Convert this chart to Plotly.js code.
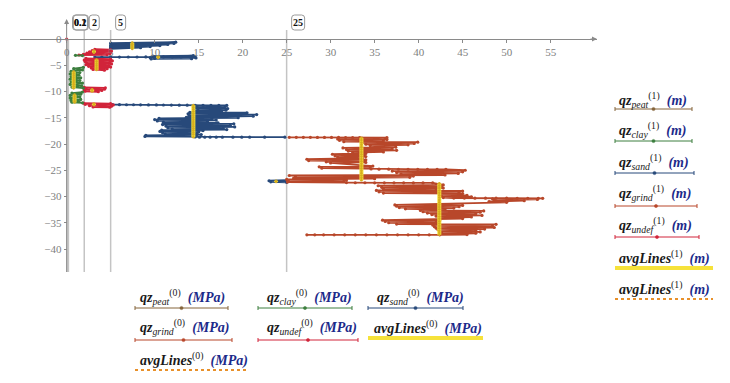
<!DOCTYPE html>
<html><head><meta charset="utf-8">
<script src="https://cdn.plot.ly/plotly-3.0.1.min.js"></script>
<style>body{margin:0;background:#fff}#chart{width:730px;height:383px}</style>
</head><body><div id="chart"></div>
<script>
// ---- data: [qc (MPa), depth (m)] pairs, null = gap ----
const sandPts = [
 [5.0,-0.8],[12.4,-0.6],[5.1,-1.0],[12.2,-0.85],[5.0,-1.2],[11.5,-1.05],[5.0,-1.4],[10.6,-1.25],[5.0,-1.6],[9.5,-1.45],[5.0,-1.8],[8.4,-1.65],[5.0,-1.9],null,
 [3.2,-3.45],[4.0,-3.45],[5.0,-3.44],[6.0,-3.44],[7.0,-3.43],[8.0,-3.43],[9.0,-3.42],[10.0,-3.42],[11.0,-3.42],[12.0,-3.41],[13.0,-3.41],[14.0,-3.40],[14.6,-3.40],[9.8,-3.25],[14.4,-3.15],[9.5,-3.55],[14.7,-3.6],[10.0,-3.7],[14.2,-3.75],[9.6,-3.8],null,
 [5.2,-12.5],[6.0,-12.5],[6.8,-12.52],[7.6,-12.52],[8.4,-12.54],[9.3,-12.55],[10.2,-12.56],[11.0,-12.57],[11.9,-12.58],[12.8,-12.6],[13.7,-12.6],[14.6,-12.62],[15.5,-12.63],[16.4,-12.64],[17.3,-12.65],[18.2,-12.66],
 [14.8,-12.85],[18.0,-12.95],[14.6,-13.15],[18.3,-13.25],[14.9,-13.45],[18.1,-13.55],[14.7,-13.75],[17.6,-13.85],
 [14.0,-13.95],[20.5,-14.05],[13.8,-14.25],[21.6,-14.4],[13.9,-14.6],[21.2,-14.7],[13.6,-14.9],[19.5,-15.0],
 [10.5,-15.1],[16.5,-15.2],[10.0,-15.35],[17.0,-15.45],[10.3,-15.6],[16.0,-15.7],[11.0,-15.85],[17.2,-15.95],
 [11.0,-16.05],[19.0,-16.15],[10.9,-16.3],[18.6,-16.45],[11.3,-16.6],[19.1,-16.75],[11.5,-16.9],[17.8,-17.0],[12.0,-17.15],[18.2,-17.25],
 [10.8,-17.35],[15.5,-17.45],[10.6,-17.6],[15.0,-17.7],[10.9,-17.85],[14.8,-17.95],[11.2,-18.1],[15.3,-18.2],
 [9.0,-18.35],[14.8,-18.45],[8.9,-18.55],[14.6,-18.65],
 [15.1,-18.7],[15.7,-18.7],[16.3,-18.7],[17.0,-18.7],[17.7,-18.7],[18.9,-18.7],[19.9,-18.7],[20.8,-18.7],[22.5,-18.7],[24.8,-18.7],null,
 [25.0,-26.9],[23.0,-27.0],[25.0,-27.1],[23.2,-27.2],[25.0,-27.3]
];
const grindPts = [
 [25.3,-18.72],[26.1,-18.72],[26.9,-18.73],[27.7,-18.73],[28.5,-18.74],[29.3,-18.74],[30.1,-18.75],[30.9,-18.75],[31.7,-18.76],[32.5,-18.76],[33.3,-18.77],
 [36.4,-18.8],[33.6,-18.9],[36.2,-18.95],
 [30.8,-19.05],[36.4,-19.15],[31.0,-19.3],[36.0,-19.4],[31.5,-19.55],
 [39.9,-19.65],[33.5,-19.8],[39.5,-19.9],[34.0,-20.05],[38.8,-20.15],[34.5,-20.3],
 [37.4,-20.6],[31.4,-20.75],[37.0,-20.9],[31.8,-21.05],[37.5,-21.2],[32.0,-21.35],[36.0,-21.5],[32.5,-21.65],
 [34.0,-21.8],[30.2,-21.95],[33.8,-22.1],[30.5,-22.25],[34.0,-22.4],[30.8,-22.55],[33.6,-22.7],
 [27.3,-22.9],[34.0,-23.0],[27.5,-23.15],[33.8,-23.25],[29.5,-23.4],[34.0,-23.5],[30.0,-23.6],
 [34.8,-24.2],[28.7,-24.35],[34.5,-24.5],[29.0,-24.6],[34.6,-24.75],
 [35.5,-24.8],[36.6,-24.8],[37.7,-24.81],[38.8,-24.81],[39.9,-24.82],[41.0,-24.82],[42.1,-24.83],[43.1,-24.83],
 [45.3,-25.0],[37.0,-25.15],[45.0,-25.3],[37.5,-25.45],[44.5,-25.6],[38.0,-25.75],[43.0,-25.9],
 [25.3,-26.0],[39.4,-26.1],[26.0,-26.25],[39.0,-26.35],[25.8,-26.5],[35.0,-26.6],
 [25.0,-26.75],[31.8,-26.85],[25.2,-27.0],[31.5,-27.1],[25.1,-27.25],[31.8,-27.35],
 [32.8,-27.38],[33.9,-27.38],[35.0,-27.39],[36.1,-27.39],[37.2,-27.4],[38.3,-27.4],[39.4,-27.41],[40.5,-27.41],[41.6,-27.42],
 [42.8,-27.8],[35.4,-27.95],[42.6,-28.1],[35.8,-28.25],[42.8,-28.4],[36.0,-28.55],[42.0,-28.7],
 [35.2,-28.85],[45.0,-28.95],[35.5,-29.1],[44.6,-29.2],[36.0,-29.35],[45.0,-29.45],
 [42.4,-29.7],[45.5,-29.8],[42.6,-29.95],[46.0,-30.05],[42.8,-30.2],
 [44.0,-30.3],[45.2,-30.3],[46.4,-30.31],[47.6,-30.31],[48.8,-30.32],[50.0,-30.32],[51.2,-30.33],[52.4,-30.33],[53.6,-30.34],[54.1,-30.35],
 [48.4,-30.45],[53.5,-30.55],[48.6,-30.7],[52.0,-30.8],[48.0,-30.95],[50.0,-31.1],
 [37.3,-31.6],[45.0,-31.7],[37.5,-31.85],[44.6,-31.95],[37.8,-32.1],[44.0,-32.2],[38.5,-32.35],[43.0,-32.5],
 [40.2,-32.65],[47.4,-32.75],[40.5,-32.9],[47.0,-33.0],[41.0,-33.15],[46.5,-33.3],[41.5,-33.45],[47.2,-33.6],[42.0,-33.75],[46.0,-33.9],[42.3,-34.05],[45.0,-34.2],
 [35.9,-34.5],[42.4,-34.6],[36.2,-34.75],[42.0,-34.85],[36.6,-35.0],[42.2,-35.1],[37.5,-35.25],
 [48.8,-35.3],[41.6,-35.45],[48.4,-35.6],[41.8,-35.75],[48.6,-35.9],[42.0,-36.05],[47.5,-36.2],[42.2,-36.35],[46.5,-36.5],
 [42.4,-36.65],[47.0,-36.75],[42.6,-36.9],[46.5,-37.0],[42.4,-37.15],[45.5,-37.25],
 [42.4,-37.3],[41.2,-37.3],[40.0,-37.3],[38.8,-37.3],[37.6,-37.3],[36.4,-37.3],[35.2,-37.3],[34.0,-37.3],[32.8,-37.3],[31.6,-37.3],[30.4,-37.3],[29.2,-37.3],[28.2,-37.3],[27.3,-37.3]
];
const undefPts = [
 [0,0],null,
 [3.2,-1.95],[5.0,-2.05],[2.9,-2.2],[5.1,-2.3],[2.6,-2.45],[5.0,-2.55],[2.3,-2.7],[4.9,-2.8],[1.9,-2.9],[4.6,-3.0],[1.4,-3.05],null,
 [2.2,-3.7],[5.0,-3.85],[2.0,-4.0],[5.2,-4.15],[2.1,-4.3],[4.9,-4.45],[2.3,-4.6],[5.1,-4.75],[2.2,-4.9],[4.8,-5.05],[2.5,-5.2],[5.0,-5.35],[2.8,-5.5],[4.6,-5.65],[3.0,-5.8],[4.3,-5.95],null,
 [2.0,-9.2],[4.4,-9.3],[2.2,-9.45],[4.3,-9.55],[2.0,-9.7],[4.0,-9.8],[2.1,-9.95],[3.6,-10.05],null,
 [1.9,-12.2],[5.0,-12.3],[2.1,-12.45],[5.3,-12.55],[2.6,-12.7],[5.1,-12.8],[3.0,-12.95],[4.9,-13.0]
];
const clayPts = [
 [1.0,-3.1],[1.8,-3.15],null,
 [1.9,-5.4],[0.8,-5.65],[1.8,-5.9],[0.5,-6.15],[1.5,-6.4],[0.4,-6.65],[1.4,-6.9],[0.5,-7.15],[1.6,-7.4],[0.4,-7.65],[1.5,-7.9],[0.5,-8.15],[1.8,-8.4],[0.4,-8.65],[1.7,-8.9],[0.6,-9.15],[1.9,-9.35],null,
 [1.8,-10.1],[0.6,-10.3],[1.6,-10.5],[0.4,-10.75],[1.5,-11.0],[0.4,-11.25],[1.6,-11.5],[0.5,-11.7],[1.4,-11.9],[0.6,-12.05],[1.8,-12.15]
];
const avgPts = [
 [7.46,-0.7],[7.46,-1.0],[7.46,-1.3],[7.46,-1.6],[7.46,-1.9],null,
 [3.1,-2.2],[3.1,-2.6],null,
 [10.4,-3.3],[10.4,-3.6],null,
 [3.4,-3.9],[3.4,-4.3],[3.4,-4.7],[3.4,-5.1],[3.4,-5.5],[3.4,-5.9],null,
 [0.8,-6.2],[0.8,-6.6],[0.8,-7.0],[0.8,-7.4],[0.8,-7.8],[0.8,-8.2],[0.8,-8.6],[0.8,-9.0],[0.8,-9.4],null,
 [2.9,-9.6],[2.9,-10.0],null,
 [0.9,-10.6],[0.9,-11.0],[0.9,-11.4],[0.9,-11.8],[0.9,-12.1],null,
 [3.1,-12.3],[3.1,-12.6],null,
 [14.4,-12.6],[14.4,-13.0],[14.4,-13.4],[14.4,-13.8],[14.4,-14.2],[14.4,-14.6],[14.4,-15.0],[14.4,-15.4],[14.4,-15.8],[14.4,-16.2],[14.4,-16.6],[14.4,-17.0],[14.4,-17.4],[14.4,-17.8],[14.4,-18.2],[14.4,-18.7],null,
 [23.8,-27.0],[23.8,-27.25],null,
 [33.5,-18.8],[33.5,-19.25],[33.5,-19.7],[33.5,-20.15],[33.5,-20.6],[33.5,-21.05],[33.5,-21.5],[33.5,-21.95],[33.5,-22.4],[33.5,-22.85],[33.5,-23.3],[33.5,-23.75],[33.5,-24.2],[33.5,-24.65],[33.5,-25.1],[33.5,-25.55],[33.5,-26.0],[33.5,-26.45],[33.5,-26.9],null,
 [42.35,-27.5],[42.35,-27.95],[42.35,-28.4],[42.35,-28.85],[42.35,-29.3],[42.35,-29.75],[42.35,-30.2],[42.35,-30.65],[42.35,-31.1],[42.35,-31.55],[42.35,-32.0],[42.35,-32.45],[42.35,-32.9],[42.35,-33.35],[42.35,-33.8],[42.35,-34.25],[42.35,-34.7],[42.35,-35.15],[42.35,-35.6],[42.35,-36.05],[42.35,-36.5],[42.35,-36.9],[42.35,-37.3]
];
const markerX = [0.1, 0.2, 2, 5, 25];
const markerLabels = ['0.1', '0.2', '2', '5', '25'];
const xTicks = [0,5,10,15,20,25,30,35,40,45,50,55];
const yTicks = [-40,-35,-30,-25,-20,-15,-10,-5,0];

// ---- styling ----
const C = {sand:'#27497a', grind:'#b8472a', undef:'#d1243a', clay:'#3c7e3e', peat:'#85643a',
           avg:'#f6e23a', avgMk:'#d6ae1e', dot:'#e8902a', unit:'#1c2a8a'};
const SERIF = "Liberation Serif";
const XR = [-5.3, 60.27], YR = [-44.38, 6.476];
const L = 20, R = 597, T = 5, B = 272;
const X = px => (px - L) / (R - L);
const Y = py => 1 - (py - T) / (B - T);
const yData = py => (39 - py) / 5.25;

function tr(pts, color, lw, ms, mcolor) {
  return {type:'scatter', mode:'lines+markers', x: pts.map(p => p ? p[0] : null), y: pts.map(p => p ? p[1] : null),
    line:{color, width: lw}, marker:{color: mcolor || color, size: ms},
    connectgaps:false, showlegend:false, hoverinfo:'skip', cliponaxis:true};
}
const traces = [
  tr(sandPts, C.sand, 1.8, 3.2),
  tr(grindPts, C.grind, 1.8, 3.2),
  tr(undefPts, C.undef, 1.8, 3.2),
  tr(clayPts, C.clay, 1.8, 3.2),
  tr(avgPts, C.avg, 4, 2.6, C.avgMk)
];

const shapes = [], annotations = [];
const boxY = yData(22.5);
markerX.forEach((mx, i) => {
  const lab = markerLabels[i];
  const w = lab.length === 1 ? 10 : (lab.length === 2 ? 13 : 15);
  shapes.push({type:'line', xref:'x', yref:'y', x0: mx, x1: mx, y0: (mx < 1 ? 0 : yData(30)), y1: YR[0],
    line:{color:'#c4c4c4', width:1.5}, layer:'below'});
  const a = 5, b = 5 + w, h = 7.5, r = 3;
  shapes.push({type:'path', xref:'x', yref:'y', xsizemode:'pixel', ysizemode:'pixel', xanchor: mx, yanchor: boxY,
    path:`M ${a+r},${-h} L ${b-r},${-h} Q ${b},${-h} ${b},${-h+r} L ${b},${h-r} Q ${b},${h} ${b-r},${h} L ${a+r},${h} Q ${a},${h} ${a},${h-r} L ${a},${-h+r} Q ${a},${-h} ${a+r},${-h} Z`,
    line:{color:'#9a9a9a', width:1}, fillcolor:'rgba(255,255,255,0)'});
  annotations.push({xref:'x', yref:'y', x: mx, y: boxY, xshift: 5 + w/2, text:'<b>'+lab+'</b>', showarrow:false,
    font:{family:SERIF, size:10, color:'#111'}, xanchor:'center', yanchor:'middle'});
});
shapes.push({type:'line', xref:'x', yref:'y', x0:0, x1:0, y0: yData(22), y1: YR[0], line:{color:'#8a8a8a', width:1}});
annotations.push({xref:'x', yref:'y', x:0, y:yData(19), ax:0, ay:8, showarrow:true, arrowhead:2, arrowsize:1, arrowwidth:1, arrowcolor:'#8a8a8a', text:''});
annotations.push({xref:'x', yref:'y', x:XR[1], y:0, ax:-8, ay:0, showarrow:true, arrowhead:2, arrowsize:1, arrowwidth:1, arrowcolor:'#8a8a8a', text:''});

// ---- legend (annotations + shapes) ----
const F = {family:SERIF, size:14, color:'#1a1a1a'};
const unit = u => '<b><i><span style="color:'+C.unit+'">('+u+')</span></i></b>';
const qzLab = (s, k, u) => '<b><i>qz</i></b><sub><i>'+s+'</i></sub><sup>('+k+')</sup>\u00a0\u00a0'+unit(u);
const avgLab = (k, u) => '<b><i>avgLines</i></b><sup>('+k+')</sup>\u00a0\u00a0'+unit(u);
function item(text, tx, ty, lx0, lx1, ly, kind, color) {
  annotations.push({xref:'paper', yref:'paper', x: X(tx), y: Y(ty), text, showarrow:false, xanchor:'left', yanchor:'middle', font:F});
  if (kind === 'thin') {
    shapes.push({type:'line', xref:'paper', yref:'paper', x0:X(lx0), x1:X(lx1), y0:Y(ly), y1:Y(ly), line:{color, width:1}});
    [lx0, lx1].forEach(ex => shapes.push({type:'line', xref:'paper', yref:'paper', ysizemode:'pixel', yanchor:Y(ly), y0:-2, y1:2, x0:X(ex), x1:X(ex), line:{color, width:1}}));
    shapes.push({type:'circle', xref:'paper', yref:'paper', xsizemode:'pixel', ysizemode:'pixel', xanchor:X((lx0+lx1)/2), yanchor:Y(ly), x0:-1.6, x1:1.6, y0:-1.6, y1:1.6, fillcolor:color, line:{color, width:0.5}});
  } else if (kind === 'thick') {
    shapes.push({type:'line', xref:'paper', yref:'paper', x0:X(lx0), x1:X(lx1), y0:Y(ly), y1:Y(ly), line:{color, width:4}});
  } else {
    shapes.push({type:'line', xref:'paper', yref:'paper', x0:X(lx0), x1:X(lx1), y0:Y(ly), y1:Y(ly), line:{color, width:1.8, dash:'dot'}});
  }
}
item(qzLab('peat',1,'m'), 617, 100, 615, 692, 109, 'thin', C.peat);
item(qzLab('clay',1,'m'), 617, 130, 615, 692, 141, 'thin', C.clay);
item(qzLab('sand',1,'m'), 617, 162, 615, 694, 173, 'thin', C.sand);
item(qzLab('grind',1,'m'), 617, 193, 615, 697, 206, 'thin', C.grind);
item(qzLab('undef',1,'m'), 617, 225, 615, 699, 237, 'thin', C.undef);
item(avgLab(1,'m'), 617, 257, 615, 713, 268, 'thick', C.avg);
item(avgLab(1,'m'), 617, 288, 615, 713, 299, 'dot', C.dot);
item(qzLab('peat',0,'MPa'), 138, 297, 135, 228, 308, 'thin', C.peat);
item(qzLab('clay',0,'MPa'), 265, 297, 258, 352, 308, 'thin', C.clay);
item(qzLab('sand',0,'MPa'), 375, 297, 368, 463, 308, 'thin', C.sand);
item(qzLab('grind',0,'MPa'), 138, 327, 135, 232, 340, 'thin', C.grind);
item(qzLab('undef',0,'MPa'), 265, 327, 258, 358, 340, 'thin', C.undef);
item(avgLab(0,'MPa'), 372, 327, 368, 483, 338, 'thick', C.avg);
item(avgLab(0,'MPa'), 138, 359, 135, 248, 370, 'dot', C.dot);

const tickFont = {family:SERIF, size:11, color:'#808080'};
const layout = {
  width:730, height:383, margin:{l:L, r:730-R, t:T, b:383-B, pad:0},
  paper_bgcolor:'#fff', plot_bgcolor:'#fff', showlegend:false,
  xaxis:{range:XR, anchor:'free', position: (0 - YR[0]) / (YR[1] - YR[0]), showline:true, linecolor:'#8a8a8a', linewidth:1,
    showgrid:false, zeroline:false, tickmode:'array', tickvals:xTicks, ticks:'outside', ticklen:3, tickcolor:'#8a8a8a',
    tickfont:tickFont, fixedrange:true},
  yaxis:{range:YR, anchor:'free', position: (0 - XR[0]) / (XR[1] - XR[0]), showline:false, showgrid:false, zeroline:false,
    tickmode:'array', tickvals:yTicks, ticks:'outside', ticklen:3, tickcolor:'#8a8a8a', tickfont:tickFont, fixedrange:true},
  shapes, annotations
};
Plotly.newPlot('chart', traces, layout, {staticPlot:true});
</script></body></html>
